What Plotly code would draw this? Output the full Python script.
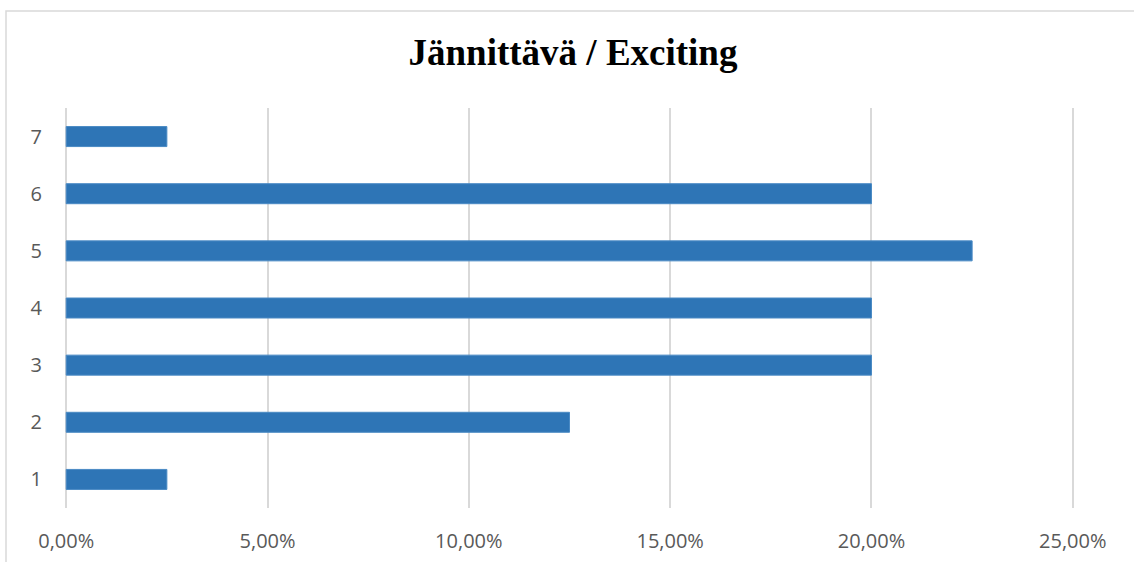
import plotly.graph_objects as go

# Share of answers per scale point (1–7)
categories = ["1", "2", "3", "4", "5", "6", "7"]
shares = [0.025, 0.125, 0.20, 0.20, 0.225, 0.20, 0.025]
x_ticks = [0, 0.05, 0.10, 0.15, 0.20, 0.25]
x_tick_labels = ["0,00%", "5,00%", "10,00%", "15,00%", "20,00%", "25,00%"]

W, H = 1134, 562
L, R, T, B = 65, 60, 108, 54
pw, ph = W - L - R, H - T - B

tick_font = dict(family="Open Sans, Liberation Sans, sans-serif", size=20, color="#595959")

fig = go.Figure(
    go.Bar(
        x=shares,
        y=list(range(1, len(categories) + 1)),
        orientation="h",
        width=0.35,
        marker=dict(color="#2E75B6", line=dict(color="#4A8AC4", width=1)),
        hoverinfo="skip",
    )
)

fig.update_layout(
    width=W,
    height=H,
    margin=dict(l=L, r=R, t=T, b=B, autoexpand=False),
    paper_bgcolor="white",
    plot_bgcolor="white",
    showlegend=False,
    title=dict(
        text="<b>Jännittävä / Exciting</b>",
        x=(573 - L) / pw,
        xref="paper",
        xanchor="center",
        y=1 - 52 / H,
        yref="container",
        yanchor="middle",
        font=dict(family="Liberation Serif, Times New Roman, serif", size=37, color="black"),
    ),
    xaxis=dict(
        range=[-0.0003, 0.2503],
        tickvals=x_ticks,
        ticktext=x_tick_labels,
        showgrid=True,
        gridcolor="#D9D9D9",
        gridwidth=1.5,
        zeroline=False,
        showline=False,
        ticks="",
        automargin=False,
        ticklabelstandoff=19,
        tickfont=tick_font,
    ),
    yaxis=dict(
        range=[0.5, 7.5],
        tickvals=list(range(1, len(categories) + 1)),
        ticktext=categories,
        showgrid=False,
        zeroline=False,
        showline=False,
        ticks="",
        automargin=False,
        ticklabelstandoff=22,
        tickfont=tick_font,
    ),
    shapes=[
        # chart frame (left and top edges visible)
        dict(
            type="rect",
            xref="paper",
            yref="paper",
            x0=(6 - L) / pw,
            x1=(W + 10 - L) / pw,
            y0=-(H + 10 - (T + ph)) / ph,
            y1=1 + (T - 11) / ph,
            line=dict(color="#D9D9D9", width=1.5),
            layer="below",
        )
    ],
)

fig.write_html("out.html")
